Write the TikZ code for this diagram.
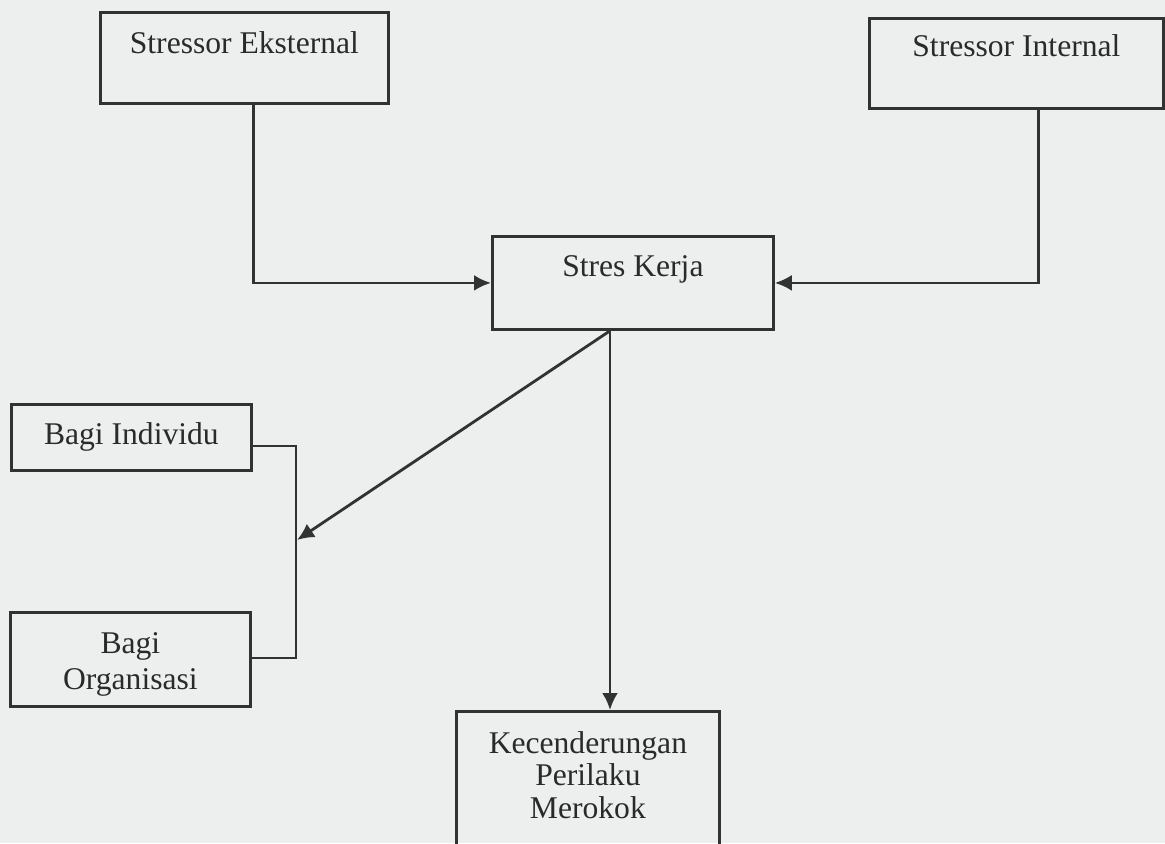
\documentclass[tikz,border=0pt]{standalone}
\usepackage{fontspec}
\setmainfont{Liberation Serif}
\usetikzlibrary{arrows.meta}
\definecolor{bgc}{RGB}{237,238,238}
\definecolor{ink}{RGB}{50,50,50}
\definecolor{txt}{RGB}{42,42,42}
\tikzset{
  box/.style={draw=ink, line width=1.4pt, rectangle, inner sep=0pt, anchor=north west,
              text=txt, font=\fontsize{15.8}{16.2}\selectfont},
  conn/.style={draw=ink, line width=1.4pt},
  arr/.style={conn, -{Latex[length=8.5pt,width=8pt]}}
}
\newcommand{\ml}[1]{\begin{tabular}[t]{@{}c@{}}#1\end{tabular}}
\begin{document}
\begin{tikzpicture}[x=0.5pt,y=-0.5pt]
\fill[bgc] (0,0) rectangle (1165,843);
\useasboundingbox (0,0) rectangle (1165,843);

\node[box, minimum width=144pt, text height=20.5pt, text depth=25pt] (ext) at (99,11) {Stressor Eksternal};
\node[box, minimum width=147pt, text height=19pt, text depth=26pt] (int) at (868,17) {Stressor Internal};
\node[box, minimum width=140.5pt, text height=20pt, text depth=26.5pt] (kerja) at (491,235) {Stres Kerja};
\node[box, minimum width=120pt, text height=20pt, text depth=13pt] (ind) at (10,403) {Bagi Individu};
\node[box, minimum width=120pt, text height=20.5pt, text depth=26.5pt, font=\fontsize{15.8}{18}\selectfont] (org) at (9,611) {\ml{Bagi\\Organisasi}};
\node[box, minimum width=131.5pt, text height=21pt, text depth=54pt] (kec) at (455,710) {\ml{Kecenderungan\\Perilaku\\Merokok}};

\coordinate (b1) at (296,446);
\coordinate (b2) at (296,658);
\coordinate (bm) at (297,540);
\coordinate (ks) at (610,0);

\draw[arr] ([xshift=4.5pt]ext.south) |- (kerja.west);
\draw[arr] ([xshift=11pt]int.south) |- (kerja.east);
\draw[conn] (ind.east |- b1) -- (b1) -- (b2) -- (org.east |- b2);
\draw[arr] (kerja.south -| ks) -- (bm);
\draw[arr] (kerja.south -| ks) -- (kec.north -| ks);
\end{tikzpicture}
\end{document}
